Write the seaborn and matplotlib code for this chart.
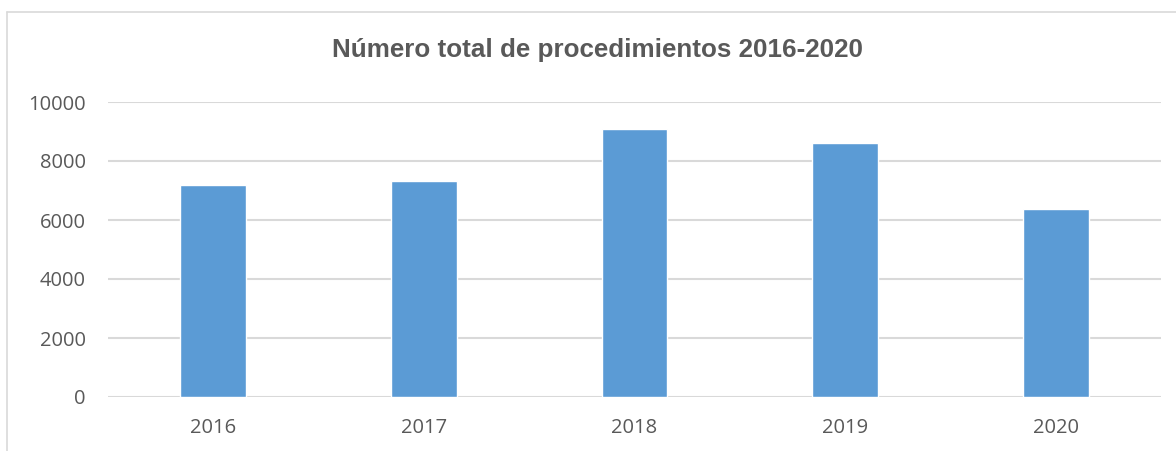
import matplotlib
matplotlib.use("Agg")
import matplotlib.pyplot as plt
import seaborn as sns
import pandas as pd

# data
years = ["2016", "2017", "2018", "2019", "2020"]
totals = [7176, 7312, 9075, 8600, 6363]
y_ticks = [0, 2000, 4000, 6000, 8000, 10000]

title = "Número total de procedimientos 2016-2020"
bar_color = "#5B9BD5"
text_color = "#595959"
grid_color = "#D9D9D9"

df = pd.DataFrame({"year": years, "total": totals})

sns.set_theme(style="white")
plt.rcParams["font.family"] = ["Open Sans", "DejaVu Sans"]

fig = plt.figure(figsize=(11.76, 4.51), dpi=100)
ax = fig.add_axes([108 / 1176, 1 - 397 / 451, (1161 - 108) / 1176, (397 - 102) / 451])

sns.barplot(data=df, x="year", y="total", color=bar_color, saturation=1,
            width=0.313, ax=ax, zorder=3)

ax.set_ylim(0, 10000)
ax.set_yticks(y_ticks)
ax.set_yticklabels([str(v) for v in y_ticks])
ax.yaxis.grid(True, color=grid_color, linewidth=1.5, zorder=0)
ax.set_axisbelow(True)
for s in ax.spines.values():
    s.set_visible(False)
ax.set_xlabel("")
ax.set_ylabel("")
ax.tick_params(axis="both", length=0, labelsize=14.5, labelcolor=text_color)
ax.tick_params(axis="y", pad=16)
ax.tick_params(axis="x", pad=15)

fig.text(597 / 1176, 1 - 50 / 451, title, ha="center", va="center",
         fontsize=18.7, fontweight="bold", color=text_color,
         family=["Liberation Sans", "DejaVu Sans"])

# outer chart frame (top and left edges visible in the crop)
fig.add_artist(plt.Line2D([7 / 1176, 1], [1 - 12 / 451, 1 - 12 / 451],
                          transform=fig.transFigure, color=grid_color, linewidth=1.2))
fig.add_artist(plt.Line2D([7 / 1176, 7 / 1176], [0, 1 - 12 / 451],
                          transform=fig.transFigure, color=grid_color, linewidth=1.2))

fig.savefig("out.png", dpi=100)
